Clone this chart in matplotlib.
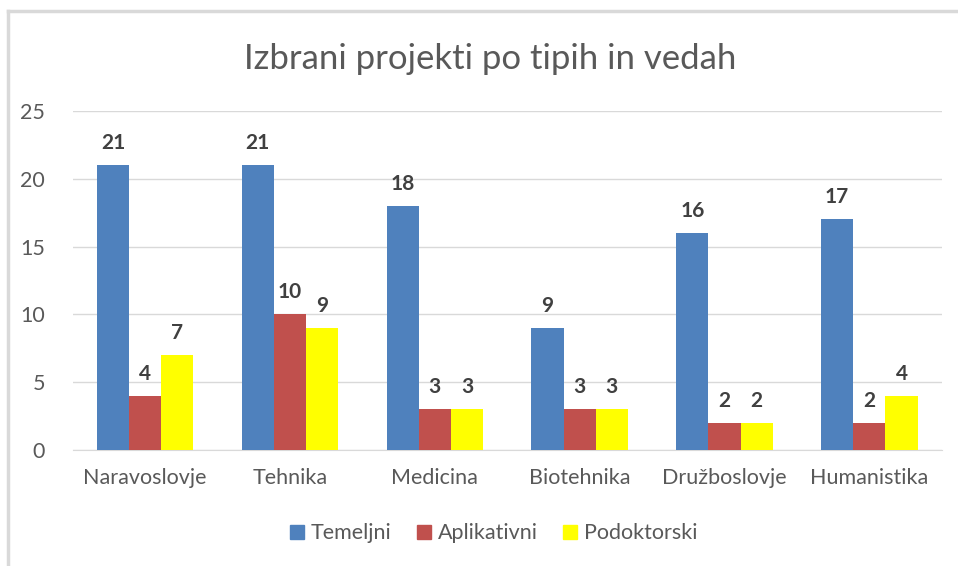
import numpy as np
import matplotlib.pyplot as plt
from matplotlib.lines import Line2D

# podatki
kategorije = ['Naravoslovje', 'Tehnika', 'Medicina', 'Biotehnika', 'Družboslovje', 'Humanistika']
temeljni = [21, 21, 18, 9, 16, 17]
aplikativni = [4, 10, 3, 3, 2, 2]
podoktorski = [7, 9, 3, 3, 2, 4]
serije = ['Temeljni', 'Aplikativni', 'Podoktorski']
barve = ['#4F81BD', '#C0504D', '#FFFF00']

plt.rcParams['font.family'] = ['Lato', 'DejaVu Sans']

fig = plt.figure(figsize=(9.58, 5.66), dpi=100)
ax = fig.add_axes([0.076, 0.205, 0.907, 0.599])

x = np.arange(len(kategorije))
w = 1 / 4.5
for i, (vals, barva) in enumerate(zip([temeljni, aplikativni, podoktorski], barve)):
    pos = x + (i - 1) * w
    ax.bar(pos, vals, width=w, color=barva, label=serije[i], zorder=3)
    for p, v in zip(pos, vals):
        ax.text(p, v + 0.9, str(v), ha='center', va='bottom', fontsize=15,
                fontweight='bold', color='#404040')

ax.set_xlim(-0.5, len(kategorije) - 0.5)
ax.set_ylim(0, 25)
ax.set_yticks(range(0, 26, 5))
ax.set_xticks(x)
ax.set_xticklabels(kategorije)
ax.tick_params(axis='both', length=0, labelsize=15.5, labelcolor='#595959')
ax.tick_params(axis='x', pad=13)
ax.tick_params(axis='y', pad=20)
ax.grid(axis='y', color='#D9D9D9', linewidth=1, zorder=0)
for s in ['top', 'right', 'left']:
    ax.spines[s].set_visible(False)
ax.spines['bottom'].set_color('#D9D9D9')

fig.text(0.512, 0.895, 'Izbrani projekti po tipih in vedah', ha='center', va='center',
         fontsize=25, color='#595959')

handles = [Line2D([], [], marker='s', linestyle='', markersize=10, color=c) for c in barve]
fig.legend(handles, serije, loc='center', bbox_to_anchor=(0.512, 0.058), ncol=3,
           frameon=False, fontsize=15.5, labelcolor='#595959', handletextpad=0.05,
           columnspacing=0.9, handlelength=1.2)

# okvir grafikona (viden le zgornji in levi rob)
fig.add_artist(Line2D([0.008, 1.0], [0.981, 0.981], color='#D9D9D9', linewidth=2.5))
fig.add_artist(Line2D([0.008, 0.008], [0.0, 0.981], color='#D9D9D9', linewidth=2.5))

fig.savefig('out.png', dpi=100)
